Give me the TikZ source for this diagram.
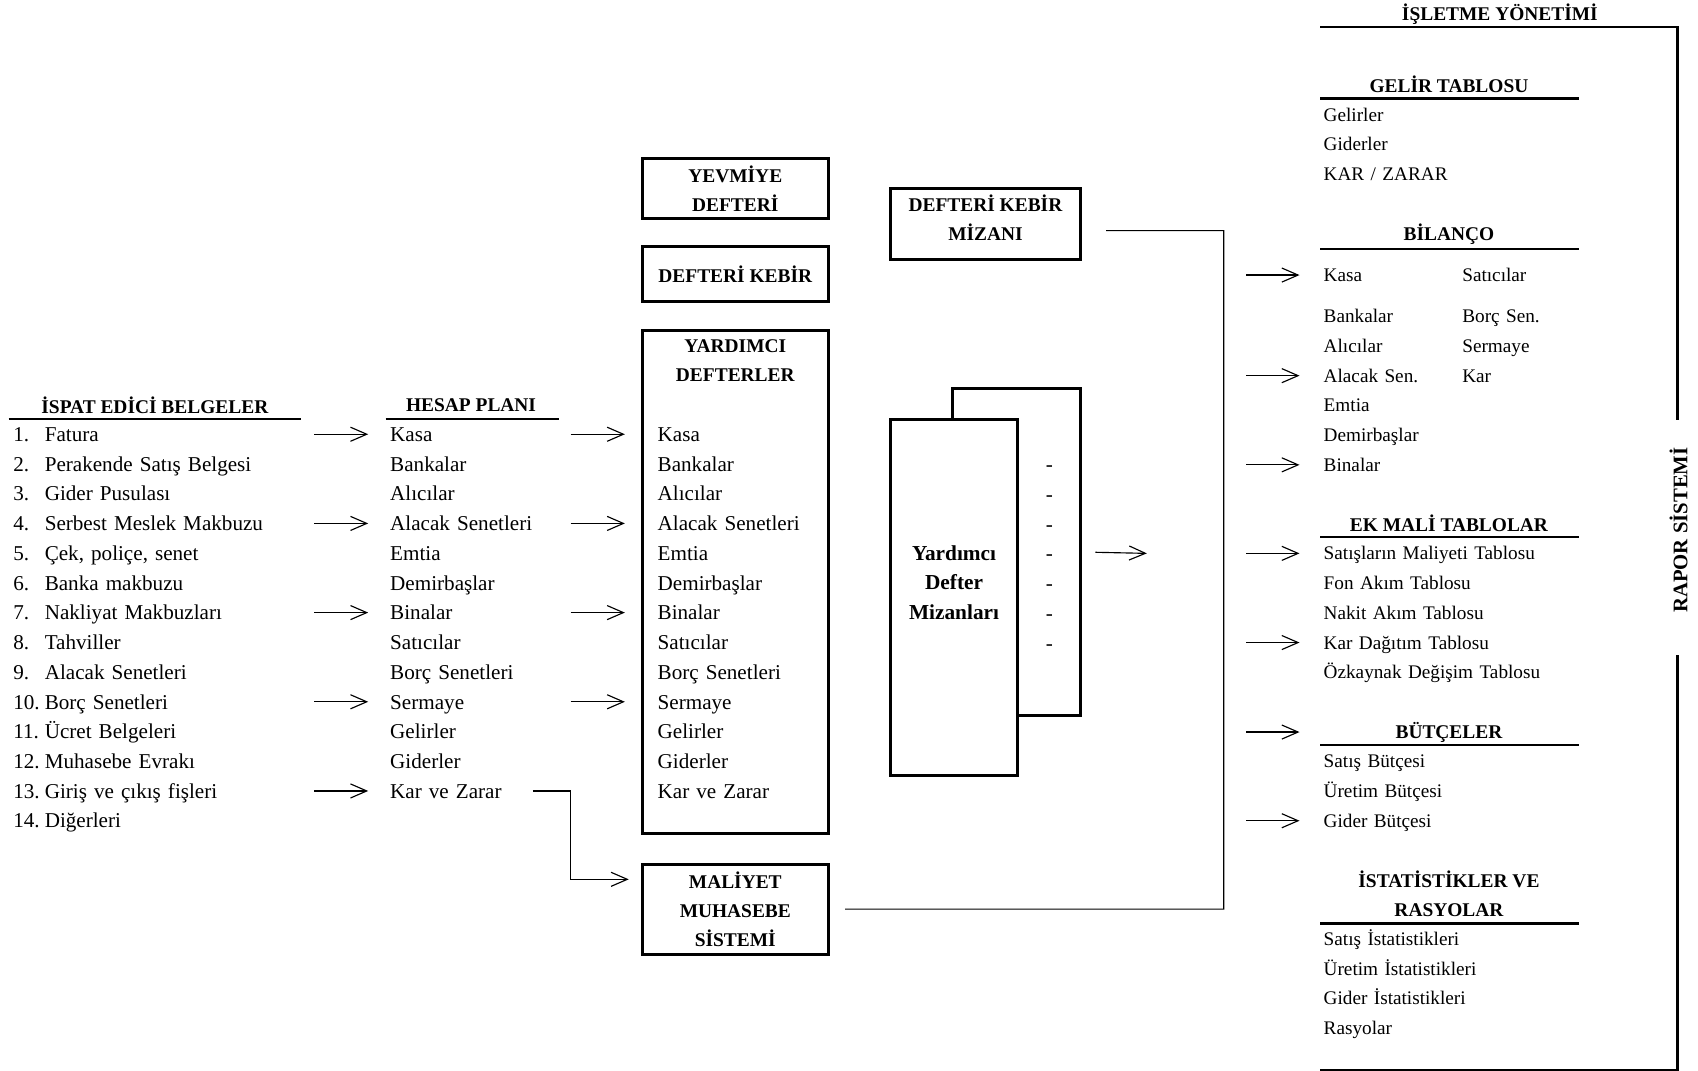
\documentclass[tikz,border=0pt]{standalone}
\usepackage{fontspec}
\setmainfont{Liberation Serif}
\usetikzlibrary{positioning, arrows.meta}

\tikzset{
	item/.style={inner sep=0pt,text height=7.6pt,text depth=0pt,align=left,font=\fontsize{11.1}{13}\selectfont},
	ritem/.style={item,font=\fontsize{10.1}{12}\selectfont,text height=6.8pt},
	baslik/.style={inner sep=0pt,align=center,font=\bfseries\fontsize{10.2}{15.4}\selectfont},
	kutu/.style={draw,line width=1.6pt,minimum width=3.44cm,baslik},
	ok/.style={-{Straight Barb[length=0.3cm,width=0.26cm]},line width=0.6pt},
	ince/.style={line width=0.6pt},
	kalin/.style={line width=1.4pt}
}

\begin{document}
\begin{tikzpicture}[node distance=0.549cm,on grid]
	\useasboundingbox (0,0) rectangle (31.36,-19.78);

	\node[baslik] (ispat) at (2.86,-7.48) {İSPAT EDİCİ BELGELER};
	\draw[kalin] (0.16,-7.74) -- (5.56,-7.74);
	\node[item,text width=5cm,anchor=west] (b1) at (0.24,-8.02) {\makebox[0.58cm][l]{1.}Fatura};
	\node[item,text width=5cm] (b2) [below=of b1] {\makebox[0.58cm][l]{2.}Perakende Satış Belgesi};
	\node[item,text width=5cm] (b3) [below=of b2] {\makebox[0.58cm][l]{3.}Gider Pusulası};
	\node[item,text width=5cm] (b4) [below=of b3] {\makebox[0.58cm][l]{4.}Serbest Meslek Makbuzu};
	\node[item,text width=5cm] (b5) [below=of b4] {\makebox[0.58cm][l]{5.}Çek, poliçe, senet};
	\node[item,text width=5cm] (b6) [below=of b5] {\makebox[0.58cm][l]{6.}Banka makbuzu};
	\node[item,text width=5cm] (b7) [below=of b6] {\makebox[0.58cm][l]{7.}Nakliyat Makbuzları};
	\node[item,text width=5cm] (b8) [below=of b7] {\makebox[0.58cm][l]{8.}Tahviller};
	\node[item,text width=5cm] (b9) [below=of b8] {\makebox[0.58cm][l]{9.}Alacak Senetleri};
	\node[item,text width=5cm] (b10) [below=of b9] {\makebox[0.58cm][l]{10.}Borç Senetleri};
	\node[item,text width=5cm] (b11) [below=of b10] {\makebox[0.58cm][l]{11.}Ücret Belgeleri};
	\node[item,text width=5cm] (b12) [below=of b11] {\makebox[0.58cm][l]{12.}Muhasebe Evrakı};
	\node[item,text width=5cm] (b13) [below=of b12] {\makebox[0.58cm][l]{13.}Giriş ve çıkış fişleri};
	\node[item,text width=5cm] (b14) [below=of b13] {\makebox[0.58cm][l]{14.}Diğerleri};

	\node[baslik] (hesap) at (8.7,-7.48) {HESAP PLANI};
	\draw[kalin] (7.12,-7.74) -- (10.32,-7.74);
	\node[item,text width=3.2cm,anchor=west] (h1) at (7.2,-8.02) {Kasa};
	\node[item,text width=3.2cm] (h2) [below=of h1] {Bankalar};
	\node[item,text width=3.2cm] (h3) [below=of h2] {Alıcılar};
	\node[item,text width=3.2cm] (h4) [below=of h3] {Alacak Senetleri};
	\node[item,text width=3.2cm] (h5) [below=of h4] {Emtia};
	\node[item,text width=3.2cm] (h6) [below=of h5] {Demirbaşlar};
	\node[item,text width=3.2cm] (h7) [below=of h6] {Binalar};
	\node[item,text width=3.2cm] (h8) [below=of h7] {Satıcılar};
	\node[item,text width=3.2cm] (h9) [below=of h8] {Borç Senetleri};
	\node[item,text width=3.2cm] (h10) [below=of h9] {Sermaye};
	\node[item,text width=3.2cm] (h11) [below=of h10] {Gelirler};
	\node[item,text width=3.2cm] (h12) [below=of h11] {Giderler};
	\node[item,text width=3.2cm] (h13) [below=of h12] {Kar ve Zarar};

	\node[kutu,minimum height=1.12cm] (yev) at (13.58,-3.48) {YEVMİYE\\DEFTERİ};
	\node[kutu,minimum height=1cm] (dk) at (13.58,-5.06) {DEFTERİ KEBİR};
	\node[kutu,minimum height=9.3cm] (yd) at (13.58,-10.75) {};
	\node[baslik] (ydb) at (13.58,-6.66) {YARDIMCI\\DEFTERLER};
	\node[item,text width=3cm,anchor=west] (y1) at (12.14,-8.02) {Kasa};
	\node[item,text width=3cm] (y2) [below=of y1] {Bankalar};
	\node[item,text width=3cm] (y3) [below=of y2] {Alıcılar};
	\node[item,text width=3cm] (y4) [below=of y3] {Alacak Senetleri};
	\node[item,text width=3cm] (y5) [below=of y4] {Emtia};
	\node[item,text width=3cm] (y6) [below=of y5] {Demirbaşlar};
	\node[item,text width=3cm] (y7) [below=of y6] {Binalar};
	\node[item,text width=3cm] (y8) [below=of y7] {Satıcılar};
	\node[item,text width=3cm] (y9) [below=of y8] {Borç Senetleri};
	\node[item,text width=3cm] (y10) [below=of y9] {Sermaye};
	\node[item,text width=3cm] (y11) [below=of y10] {Gelirler};
	\node[item,text width=3cm] (y12) [below=of y11] {Giderler};
	\node[item,text width=3cm] (y13) [below=of y12] {Kar ve Zarar};
	\node[kutu,minimum height=1.66cm] (mal) at (13.58,-16.79) {MALİYET\\MUHASEBE\\SİSTEMİ};

	\node[kutu,minimum width=3.52cm,minimum height=1.32cm,text depth=0.24cm] (dkm) at (18.2,-4.14) {DEFTERİ KEBİR\\MİZANI};
	\node[draw,line width=1.6pt,fill=white,minimum width=2.36cm,minimum height=6.04cm] (ydma) at (18.78,-10.2) {};
	\node[draw,line width=1.6pt,fill=white,minimum width=2.36cm,minimum height=6.58cm] (ydm) at (17.62,-11.03) {};
	\node[baslik,font=\bfseries\fontsize{11.2}{15.4}\selectfont] (ydmt) at (17.62,-10.76) {Yardımcı\\Defter\\Mizanları};
	\node[item] (d1) at (19.38,-8.58) {-};
	\node[item] (d2) [below=of d1] {-};
	\node[item] (d3) [below=of d2] {-};
	\node[item] (d4) [below=of d3] {-};
	\node[item] (d5) [below=of d4] {-};
	\node[item] (d6) [below=of d5] {-};
	\node[item] (d7) [below=of d6] {-};
	\coordinate (serbest) at (21.18,-10.22);
	\coordinate (kose) at (22.6,-4.26);

	\node[baslik] (isl) at (27.7,-0.26) {İŞLETME YÖNETİMİ};
	\node[baslik,rotate=90,font=\bfseries\fontsize{10.9}{13}\selectfont] (rapor) at (31.0,-9.79) {RAPOR SİSTEMİ};
	\draw[kalin] (24.38,-0.5) -| (30.98,-7.76);
	\draw[kalin] (30.98,-12.1) |- (24.38,-19.76);

	\node[baslik] (gel) at (26.76,-1.56) {GELİR TABLOSU};
	\draw[kalin] (24.38,-1.82) -- (29.16,-1.82);
	\node[ritem,text width=4.6cm,anchor=west] (g1) at (24.44,-2.12) {Gelirler};
	\node[ritem,text width=4.6cm] (g2) [below=of g1] {Giderler};
	\node[ritem,text width=4.6cm] (g3) [below=of g2] {KAR / ZARAR};

	\node[baslik] (bil) at (26.76,-4.32) {BİLANÇO};
	\draw[kalin] (24.38,-4.6) -- (29.16,-4.6);
	\node[ritem,text width=2.4cm,anchor=west] (k1) at (24.44,-5.08) {Kasa};
	\node[ritem,text width=2.4cm] (k2) [below=0.76cm of k1] {Bankalar};
	\node[ritem,text width=2.4cm] (k3) [below=of k2] {Alıcılar};
	\node[ritem,text width=2.4cm] (k4) [below=of k3] {Alacak Sen.};
	\node[ritem,text width=2.4cm] (k5) [below=of k4] {Emtia};
	\node[ritem,text width=2.4cm] (k6) [below=of k5] {Demirbaşlar};
	\node[ritem,text width=2.4cm] (k7) [below=of k6] {Binalar};
	\node[ritem,text width=2cm,anchor=west] (s1) at (27.0,-5.08) {Satıcılar};
	\node[ritem,text width=2cm] (s2) [below=0.76cm of s1] {Borç Sen.};
	\node[ritem,text width=2cm] (s3) [below=of s2] {Sermaye};
	\node[ritem,text width=2cm] (s4) [below=of s3] {Kar};

	\node[baslik] (ek) at (26.76,-9.66) {EK MALİ TABLOLAR};
	\draw[kalin] (24.38,-9.92) -- (29.16,-9.92);
	\node[ritem,text width=4.6cm,anchor=west] (e1) at (24.44,-10.22) {Satışların Maliyeti Tablosu};
	\node[ritem,text width=4.6cm] (e2) [below=of e1] {Fon Akım Tablosu};
	\node[ritem,text width=4.6cm] (e3) [below=of e2] {Nakit Akım Tablosu};
	\node[ritem,text width=4.6cm] (e4) [below=of e3] {Kar Dağıtım Tablosu};
	\node[ritem,text width=4.6cm] (e5) [below=of e4] {Özkaynak Değişim Tablosu};

	\node[baslik] (but) at (26.76,-13.52) {BÜTÇELER};
	\draw[kalin] (24.38,-13.76) -- (29.16,-13.76);
	\node[ritem,text width=4.6cm,anchor=west] (bu1) at (24.44,-14.06) {Satış Bütçesi};
	\node[ritem,text width=4.6cm] (bu2) [below=of bu1] {Üretim Bütçesi};
	\node[ritem,text width=4.6cm] (bu3) [below=of bu2] {Gider Bütçesi};

	\node[baslik] (ist) at (26.76,-16.51) {İSTATİSTİKLER VE\\RASYOLAR};
	\draw[kalin] (24.38,-17.06) -- (29.16,-17.06);
	\node[ritem,text width=4.6cm,anchor=west] (i1) at (24.44,-17.34) {Satış İstatistikleri};
	\node[ritem,text width=4.6cm] (i2) [below=of i1] {Üretim İstatistikleri};
	\node[ritem,text width=4.6cm] (i3) [below=of i2] {Gider İstatistikleri};
	\node[ritem,text width=4.6cm] (i4) [below=of i3] {Rasyolar};

	\path[ok] ([xshift=-1.4cm]h1.west) edge ([xshift=-0.4cm]h1.west)
		([xshift=-1.4cm]h4.west) edge ([xshift=-0.4cm]h4.west)
		([xshift=-1.4cm]h7.west) edge ([xshift=-0.4cm]h7.west)
		([xshift=-1.4cm]h10.west) edge ([xshift=-0.4cm]h10.west)
		([xshift=-1.4cm]h13.west) edge ([xshift=-0.4cm]h13.west)
		([xshift=-1.6cm]y1.west) edge ([xshift=-0.6cm]y1.west)
		([xshift=-1.6cm]y4.west) edge ([xshift=-0.6cm]y4.west)
		([xshift=-1.6cm]y7.west) edge ([xshift=-0.6cm]y7.west)
		([xshift=-1.6cm]y10.west) edge ([xshift=-0.6cm]y10.west)
		([xshift=0.24cm]ydma.east) edge (serbest)
		([xshift=-1.42cm]k1.west) edge ([xshift=-0.44cm]k1.west)
		([xshift=-1.42cm]k4.west) edge ([xshift=-0.44cm]k4.west)
		([xshift=-1.42cm]k7.west) edge ([xshift=-0.44cm]k7.west)
		([xshift=-1.42cm]e1.west) edge ([xshift=-0.44cm]e1.west)
		([xshift=-1.42cm]e4.west) edge ([xshift=-0.44cm]e4.west)
		([xshift=-1.42cm]but.west -| bu1.west) edge ([xshift=-0.44cm]but.west -| bu1.west)
		([xshift=-1.42cm]bu3.west) edge ([xshift=-0.44cm]bu3.west);
	\draw[ok] ([xshift=2.64cm]h13.west) -| ([xshift=-1.3cm,yshift=0.55cm]mal.west) -- ([xshift=-0.22cm,yshift=0.55cm]mal.west);
	\draw[ince] ([xshift=0.28cm]mal.east) -| (kose) -- ([xshift=0.44cm,yshift=-0.12cm]dkm.east);
\end{tikzpicture}
\end{document}
